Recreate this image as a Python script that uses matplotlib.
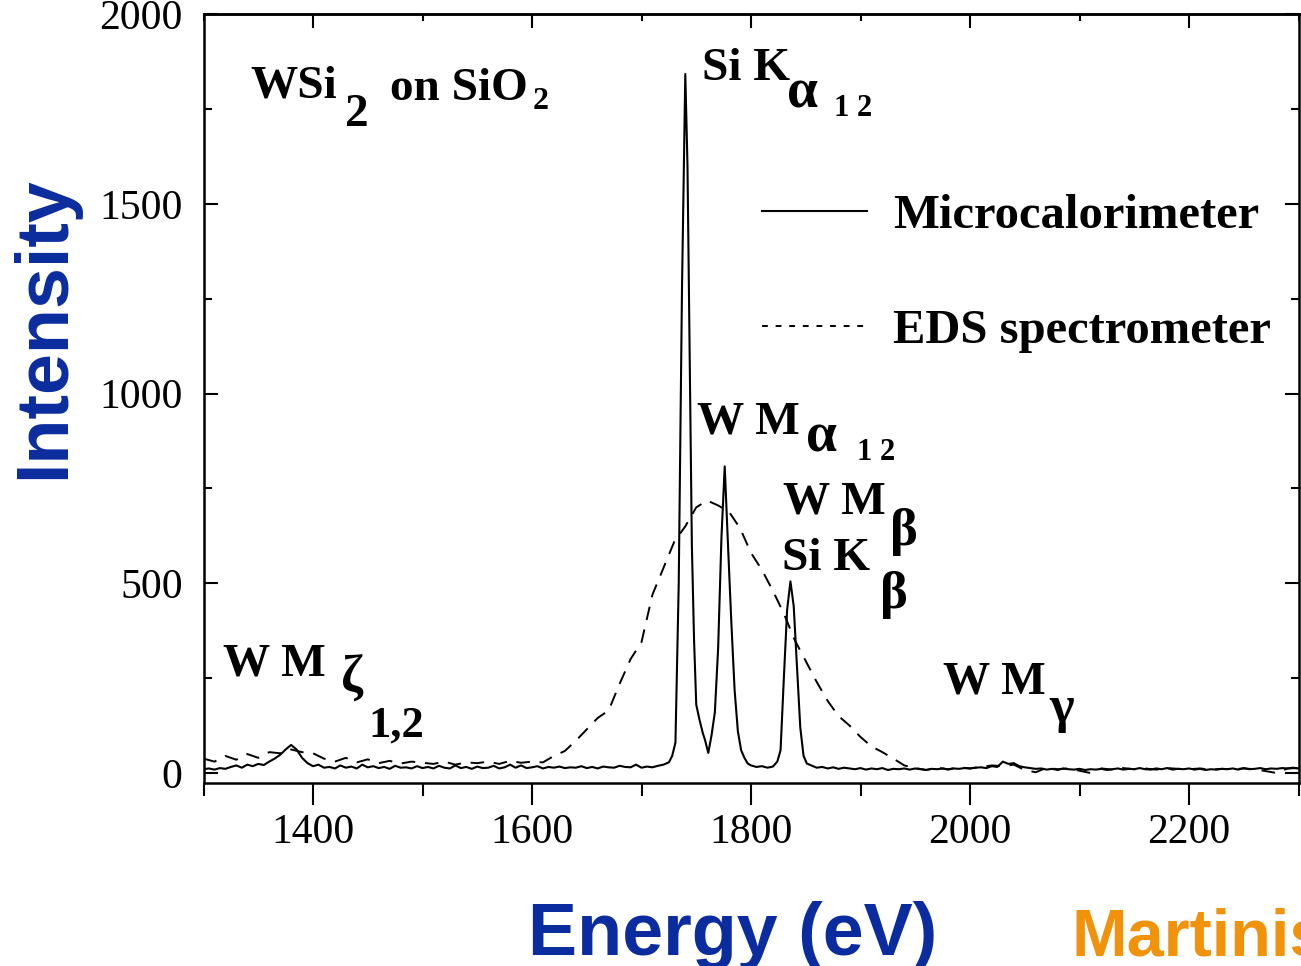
import numpy as np
import matplotlib.pyplot as plt
from matplotlib.lines import Line2D
from matplotlib.ticker import MultipleLocator

# microcalorimeter spectrum: flat part left of the peaks (5 eV steps)
micro_left_e = np.arange(1300, 1726, 5)
micro_left_i = [10, 12, 9, 13, 11, 16, 20, 14, 22, 18,
                24, 21, 30, 38, 48, 62, 74, 62, 40, 26,
                18, 22, 14, 16, 12, 20, 14, 17, 12, 22,
                15, 18, 13, 16, 11, 19, 14, 15, 12, 18,
                13, 16, 12, 19, 14, 12, 20, 13, 16, 11,
                17, 13, 14, 19, 12, 15, 22, 14, 20, 13,
                15, 18, 12, 16, 14, 17, 13, 15, 14, 18,
                13, 16, 12, 17, 15, 14, 19, 16, 15, 22,
                14, 17, 15, 19, 22, 28]

# Si Ka, W Ma, W Mb / Si Kb region
micro_peak_e = [1728, 1731, 1734, 1737, 1740, 1742, 1744, 1746, 1748, 1750,
                1753, 1756, 1758, 1761, 1764, 1767, 1770, 1773, 1776, 1779,
                1782, 1785, 1788, 1791, 1794, 1797, 1800, 1805, 1810, 1815,
                1820, 1824, 1827, 1830, 1833, 1836, 1839, 1842, 1845, 1848,
                1851]
micro_peak_i = [45, 80, 500, 1280, 1842, 1600, 1100, 600, 350, 180,
                140, 105, 87, 53, 100, 160, 330, 620, 808, 600,
                400, 220, 110, 60, 40, 25, 20, 16, 18, 14,
                17, 30, 60, 250, 430, 505, 440, 280, 120, 45,
                25]

# flat part right of the peaks
micro_right_e = np.arange(1855, 2301, 5)
micro_right_i = [20, 14, 16, 12, 15, 11, 14, 12, 10, 13,
                 9, 12, 10, 13, 8, 11, 10, 12, 9, 12,
                 10, 8, 11, 10, 12, 9, 12, 11, 13, 12,
                 14, 15, 13, 18, 16, 30, 24, 26, 18, 15,
                 13, 11, 12, 9, 11, 8, 12, 10, 9, 11,
                 8, 10, 9, 11, 8, 10, 12, 9, 11, 10,
                 13, 10, 9, 12, 10, 13, 9, 11, 10, 12,
                 9, 11, 8, 10, 9, 11, 10, 12, 9, 13,
                 10, 11, 13, 10, 12, 11, 13, 12, 14, 12]

# EDS spectrometer (10 eV steps)
eds_e = np.arange(1300, 2301, 10)
eds_i = [38, 30, 45, 35, 50, 40, 55, 52, 62, 55,
         52, 38, 30, 40, 28, 36, 26, 32, 25, 30,
         27, 24, 30, 22, 28, 26, 30, 24, 32, 27,
         30, 28, 45, 58, 85, 115, 145, 165, 235, 300,
         345, 470, 540, 610, 650, 700, 718, 705, 688, 645,
         580, 535, 480, 420, 350, 295, 240, 190, 150, 125,
         95, 70, 55, 38, 20, 13, 8, 14, 10, 15,
         12, 16, 20, 18, 22, 8, 2, 14, 10, 12,
         6, 0, 12, 9, 13, 10, 12, 9, 13, 11,
         10, 12, 9, 11, 10, 12, 10, 5, 0, 12,
         13]

micro_e = np.concatenate([micro_left_e, micro_peak_e, micro_right_e])
micro_i = np.concatenate([micro_left_i, micro_peak_i, micro_right_i])

plt.rcParams['font.family'] = 'Liberation Serif'

W, H = 1301, 966
fig = plt.figure(figsize=(W / 100, H / 100), dpi=100)
ax = fig.add_axes([203.5 / W, 1 - 782.5 / H, 1095 / W, 768.5 / H])

ax.plot(eds_e, eds_i, color='k', lw=1.4, dashes=(7, 5))
ax.plot(micro_e, micro_i, color='k', lw=1.5)

ax.set_xlim(1300, 2300)
ax.set_ylim(-25, 2000)

ax.xaxis.set_major_locator(MultipleLocator(200))
ax.xaxis.set_minor_locator(MultipleLocator(100))
ax.yaxis.set_major_locator(MultipleLocator(500))
ax.yaxis.set_minor_locator(MultipleLocator(250))
ax.tick_params(axis='x', which='major', direction='out', length=16, width=1.5,
               labelsize=30, pad=6)
ax.tick_params(axis='x', which='minor', direction='out', length=9.5, width=1.5)
ax.tick_params(axis='y', which='major', direction='in', length=10, width=1.5,
               right=True, labelsize=30, pad=15)
ax.tick_params(axis='y', which='minor', direction='in', length=5.5, width=1.5,
               right=True)

top = ax.secondary_xaxis('top')
top.xaxis.set_major_locator(MultipleLocator(200))
top.xaxis.set_minor_locator(MultipleLocator(100))
top.tick_params(which='major', direction='in', length=10, width=1.5, labeltop=False)
top.tick_params(which='minor', direction='in', length=5, width=1.5)
top.spines['top'].set_linewidth(1.8)
for s in ax.spines.values():
    s.set_linewidth(1.8)

h1 = Line2D([], [], color='k', lw=1.5)
h2 = Line2D([], [], color='k', lw=1.4, ls=(0, (3, 4)))
ax.legend([h1, h2], ['Microcalorimeter', 'EDS spectrometer'],
          loc='upper left', bbox_to_anchor=(762 / W, 1 - 194 / H),
          bbox_transform=fig.transFigure, frameon=False,
          prop={'family': 'Liberation Serif', 'weight': 'bold', 'size': 35},
          handlelength=2.15, handletextpad=0.55, labelspacing=1.45,
          borderpad=0, borderaxespad=0)


def put(px, py, s, size=34, greek=False):
    # text placed by its left/baseline point in figure pixels
    fig.text(px / W, 1 - py / H, s, fontsize=size, fontweight='bold',
             ha='left', va='baseline')


put(250, 97, 'WSi')
put(345, 126, '2')
put(390, 100, 'on SiO')
put(533, 109, '2', size=23)

put(702, 80, 'Si K')
put(787, 107, 'α', size=40, greek=True)
put(834, 116, '1 2', size=22)

put(697, 433, 'W M')
put(806, 452, 'α', size=40, greek=True)
put(857, 460, '1 2', size=22)

put(783, 513, 'W M')
put(890, 545, 'β', size=38, greek=True)
put(782, 570, 'Si K')
put(880, 608, 'β', size=38, greek=True)

put(223, 675, 'W M')
put(341, 692, 'ζ', size=38, greek=True)
put(368, 737, '1,2', size=32)

put(943, 693, 'W M')
put(1049, 722, 'γ', size=38, greek=True)

blue = '#0b2c9e'
fig.text(528 / W, 1 - 955 / H, 'Energy (eV)', color=blue, fontsize=53,
         family='Liberation Sans', fontweight='bold', ha='left', va='baseline')
fig.text(64 / W, 1 - 328 / H, 'Intensity', color=blue, fontsize=53,
         family='Liberation Sans', fontweight='bold', rotation=90,
         rotation_mode='anchor', ha='center', va='baseline')
fig.text(1072 / W, 1 - 955 / H, 'Martinis', color='#f0920a', fontsize=48,
         family='Liberation Sans', fontweight='bold', ha='left', va='baseline')

fig.savefig('out.png', dpi=100)
